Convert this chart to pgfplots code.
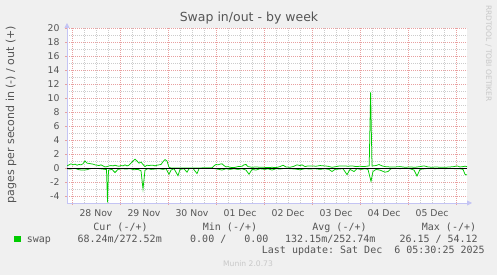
\documentclass[border=0pt]{standalone}
\usepackage{pgfplots}
\pgfplotsset{compat=1.18}
\usepackage{pgfplotstable}
\usepackage{fontspec}
\setmainfont{DejaVu Sans}
\setmonofont{DejaVu Sans Mono}
\usetikzlibrary{arrows.meta}
\definecolor{bg}{HTML}{F0F0F0}
\definecolor{txt}{HTML}{555555}
\definecolor{swapgreen}{HTML}{00CC00}
\definecolor{majgrid}{HTML}{E8A0A0}
\definecolor{mingrid}{HTML}{CCCCCC}
\definecolor{axisblue}{HTML}{C4C4F4}
\definecolor{faint}{HTML}{C8C8C8}

% swap out (+), hours since 28 Nov 00:00
\pgfplotstableread{
h v
-2.5 0.3
-1.5 0.45
-0.5 0.6
0.5 0.45
1.5 0.55
2.5 0.4
3.5 0.5
4.5 0.45
5.5 0.6
6.5 1.0
7.5 0.7
8.5 0.65
9.5 0.6
10.5 0.55
11.5 0.45
12.5 0.4
13.5 0.35
14.5 0.45
15.5 0.3
16.5 0.15
17.5 0.2
18.5 0.3
19.5 0.35
20.5 0.3
21.5 0.4
22.5 0.3
23.5 0.25
24.5 0.35
25.5 0.3
26.5 0.45
27.5 0.3
28.5 0.4
29.5 0.7
30.5 1.0
31.5 1.25
32.5 1.0
33.5 0.7
34.5 0.85
35.5 0.5
36.5 0.2
37.5 0.4
38.5 0.35
39.5 0.4
40.5 0.4
41.5 0.3
42.5 0.4
43.5 0.45
44.5 0.5
45.5 0.9
46.5 1.2
47.5 1.0
48.5 0.1
49.5 0
70 0
71 0.3
72 0.5
73 0.45
74 0.55
75 0.6
76 0.35
77 0.15
78 0.2
79 0.1
81 0.05
83 0.2
85 0.25
86 0.45
87 0.5
88 0.2
90 0.1
92 0.15
94 0.1
96 0.1
98 0.05
100 0.1
102 0.05
104 0.2
105.5 0.4
107 0.15
109 0.1
111 0.25
112.5 0.45
114 0.35
115 0.45
116.5 0.2
118 0.3
120 0.3
122 0.25
124 0.35
126 0.3
128 0.25
130 0.1
132 0.2
134 0.3
136 0.3
138 0.25
140 0.3
142 0.2
144 0.25
146 0.2
148.6 0.3
149.3 10.8
150.0 0.3
150.5 0.3
152 0.35
153.5 0.5
155 0.3
156.5 0.2
159 0.15
161.5 0.15
164 0.2
166.5 0.1
169 0.15
171.5 0.1
174 0.2
176 0.3
178 0.15
180 0.1
182 0.15
184 0.1
186.5 0.1
189 0.15
191 0.2
192.5 0.3
194 0.15
195.5 0.2
196.5 0.25
197.5 0.2
}\outdata

% swap in (-)
\pgfplotstableread{
h v
-2.5 -0.1
-1 -0.15
1.5 -0.05
3.5 -0.25
5.5 -0.3
7.5 -0.25
9 -0.1
11.5 -0.05
14 -0.1
16.5 -0.2
17.25 -0.2
17.75 -4.9
18.25 -0.3
20 -0.2
21.5 -0.65
23 -0.2
25 -0.1
27 -0.15
29 -0.1
31 -0.25
33 -0.2
34.5 -0.4
35.5 -3.0
36.5 -0.3
38 -0.1
39.5 -0.2
41.5 -0.15
43.5 -0.1
45.5 -0.2
47 -0.1
48.5 -0.9
49.5 -0.3
51 -0.1
53 -1.1
54 -0.2
56 -0.1
57.5 -0.6
58.5 -0.1
60.5 -0.05
62.5 -0.8
63.5 -0.1
65.5 0
70 0
71.5 -0.1
73.5 -0.2
75 -0.3
77 -0.1
79 -0.2
81 -0.1
83 -0.2
85 -0.1
87 -0.3
88.5 -0.9
90 -0.2
92 -0.3
94 -0.1
96.5 -0.2
98 -0.1
100 -0.3
102 -0.1
104 -0.15
106.5 -0.05
109 -0.1
111.5 -0.15
114 -0.25
116.5 -0.1
119 -0.15
121.5 -0.1
124 -0.2
126.5 -0.1
128.5 -0.2
130 -0.5
131.5 -0.2
133.5 -0.15
135.5 -0.1
137.5 -0.95
139 -0.2
141 -0.5
142.5 -0.1
144.5 -0.2
146.5 -0.1
148 -0.2
149.5 -1.9
150.5 -0.5
152 -0.2
154 -0.3
156.5 -0.6
158 -0.5
159.5 -0.1
162 -0.05
164 -0.1
166.5 -0.05
169 -0.1
171 -0.3
172.5 -1.15
174 -0.2
176.5 -0.1
179 -0.05
181.5 -0.1
184 -0.05
186.5 -0.1
189 -0.05
191.5 -0.1
194 -0.1
195.5 -0.2
196.5 -0.9
197.5 -1.0
}\indata

\begin{document}
\begin{tikzpicture}
\useasboundingbox (0,0) rectangle (497pt,275pt);
\fill[bg] (0,0) rectangle (497pt,275pt);
\begin{axis}[
  at={(67pt,72pt)}, anchor=south west,
  scale only axis, width=400pt, height=175pt,
  xmin=-2.5, xmax=197.5, ymin=-5, ymax=20,
  axis lines=left,
  axis line style={draw=axisblue, line width=0.8pt},
  x axis line style={-{Triangle[width=5pt,length=5pt]}, shorten >=-5pt},
  y axis line style={-{Triangle[width=5pt,length=5pt]}, shorten >=-5pt},
  axis background/.style={fill=white},
  xtick={0,24,...,192}, xticklabels={},
  minor x tick num=3,
  extra x ticks={12,36,...,180},
  extra x tick labels={28 Nov,29 Nov,30 Nov,01 Dec,02 Dec,03 Dec,04 Dec,05 Dec},
  extra x tick style={grid=none, major tick length=0pt},
  ytick={-4,-2,...,20},
  minor y tick num=1,
  grid=both,
  major grid style={draw=majgrid, dash pattern=on 0.8pt off 1.2pt, line width=0.5pt},
  minor grid style={draw=mingrid, dash pattern=on 0.8pt off 1.2pt, line width=0.5pt},
  major tick length=2pt, minor tick length=0pt,
  tick align=outside,
  tick style={draw=majgrid, line width=0.6pt},
  ticklabel style={font=\fontsize{9.3}{11}\selectfont, text=txt},
  xticklabel style={yshift=-3pt},
  yticklabel style={xshift=-2pt},
  /pgf/number format/assume math mode=true,
]
\addplot[swapgreen, line width=0.75pt] table[x=h,y=v]{\outdata};
\addplot[swapgreen, line width=0.75pt] table[x=h,y=v]{\indata};
\addplot[black, line width=0.9pt] coordinates {(-2.5,0) (197.5,0)};
\end{axis}
% titles and labels
\node[text=txt, font=\fontsize{12.5}{14}\selectfont] at (249pt,257pt) {Swap in/out - by week};
\node[rotate=90, text=txt, font=\fontsize{11}{13}\selectfont] at (11pt,160.5pt) {pages per second in (-) / out (+)};
\node[rotate=-90, text=faint, font=\fontsize{7.5}{9}\selectfont] at (488.5pt,221.5pt) {RRDTOOL / TOBI OETIKER};
\node[text=faint, font=\fontsize{7.6}{9}\selectfont] at (248pt,11pt) {Munin 2.0.73};
% legend
\begin{scope}[every node/.style={inner sep=0pt, text=txt, font=\ttfamily\fontsize{10}{12}\selectfont}]
\node[anchor=base] at (120.5pt,44pt) {Cur (-/+)};
\node[anchor=base] at (230pt,44pt) {Min (-/+)};
\node[anchor=base] at (339.5pt,44pt) {Avg (-/+)};
\node[anchor=base] at (449pt,44pt) {Max (-/+)};
\fill[swapgreen] (14pt,32.7pt) rectangle (20.5pt,39pt);
\node[anchor=base west] at (26.7pt,32.7pt) {swap};
\node[anchor=base west] at (77.3pt,32.7pt) {68.24m/272.52m};
\node[anchor=base west] at (190pt,32.7pt) {0.00 /\ \ \ 0.00};
\node[anchor=base west] at (285pt,32.7pt) {132.15m/252.74m};
\node[anchor=base west] at (399.3pt,32.7pt) {26.15 / 54.12};
\node[anchor=base west] at (261.7pt,21pt) {Last update: Sat Dec\ \ 6 05:30:25 2025};
\end{scope}
\end{tikzpicture}
\end{document}
